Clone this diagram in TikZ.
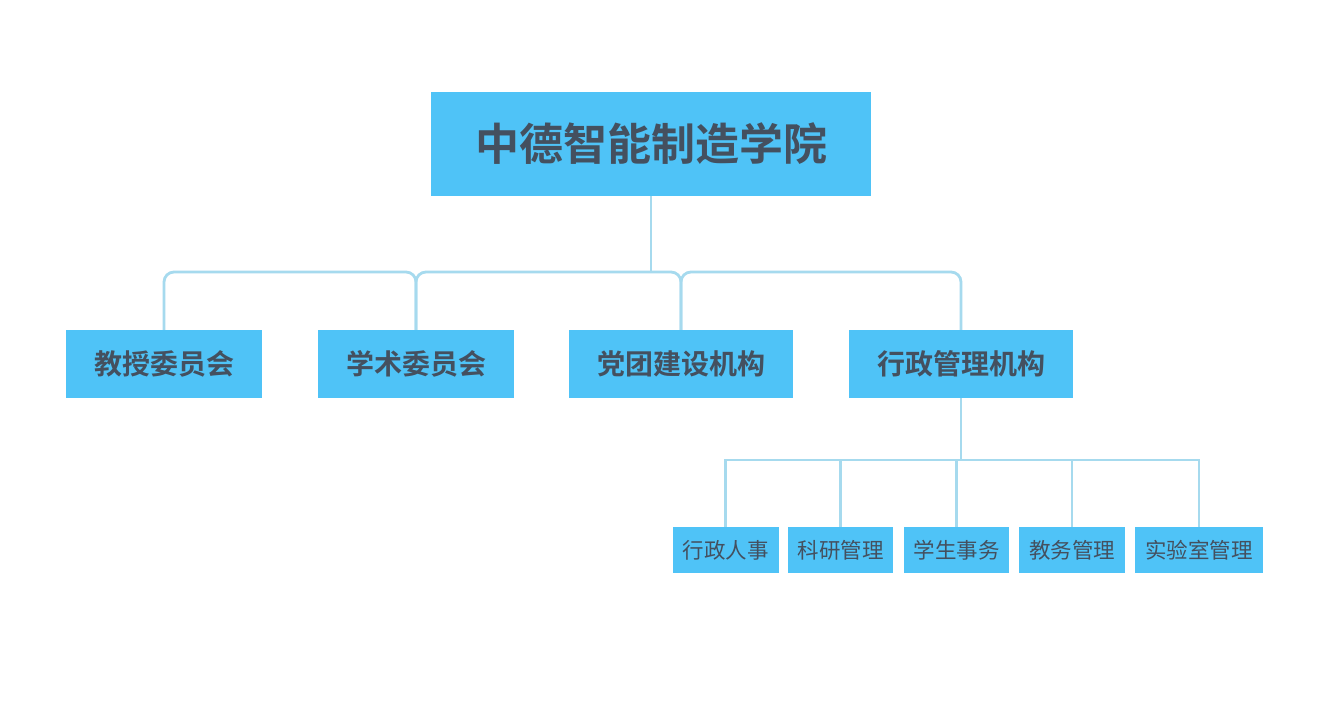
\documentclass[tikz,border=0pt]{standalone}
\usepackage{fontspec}
\setmainfont{Noto Sans CJK SC}
\newfontfamily\cjkb{Noto Sans CJK SC Bold}
\definecolor{boxfill}{HTML}{4FC3F7}
\definecolor{txt}{HTML}{44505F}
\definecolor{conn}{HTML}{A6DAEE}
\begin{document}
\begin{tikzpicture}[x=1pt,y=-1pt,
  boxbase/.style={fill=boxfill,inner sep=0pt,text=txt,anchor=center},
  topbox/.style={boxbase,minimum width=440pt,minimum height=104pt,font=\cjkb\fontsize{44}{50}\selectfont},
  lonebox/.style={boxbase,minimum height=68pt,font=\cjkb\fontsize{28}{32}\selectfont},
  ltwobox/.style={boxbase,minimum height=46pt,font=\fontsize{21.5}{26}\selectfont},
  connline/.style={draw=conn,line width=2.8pt},
]
\useasboundingbox (0,0) rectangle (1344,710);
\fill[white] (0,0) rectangle (1344,710);
\node[topbox] (top) at (651,144) {中德智能制造学院};
\node[lonebox,minimum width=196pt] (a) at (164,364) {教授委员会};
\node[lonebox,minimum width=196pt] (b) at (416,364) {学术委员会};
\node[lonebox,minimum width=224pt] (c) at (681,364) {党团建设机构};
\node[lonebox,minimum width=224pt] (d) at (961,364) {行政管理机构};
\node[ltwobox,minimum width=106pt] (d1) at (725.5,550) {行政人事};
\node[ltwobox,minimum width=105pt] (d2) at (840.5,550) {科研管理};
\node[ltwobox,minimum width=105pt] (d3) at (956.5,550) {学生事务};
\node[ltwobox,minimum width=106pt] (d4) at (1072,550) {教务管理};
\node[ltwobox,minimum width=128pt] (d5) at (1199,550) {实验室管理};
\coordinate (j) at (651,272);
\coordinate (k) at (961,460);
\draw[connline] (top.south) -- (j);
\draw[connline,rounded corners=10pt] (a.north) |- (b.north |- j) -- (b.north);
\draw[connline,rounded corners=10pt] (b.north) |- (c.north |- j) -- (c.north);
\draw[connline,rounded corners=10pt] (c.north) |- (d.north |- j) -- (d.north);
\draw[connline] (d.south) -- (k);
\foreach \n in {d1,d2,d3,d4,d5}{\draw[connline] (k) -| (\n.north);}
\end{tikzpicture}
\end{document}
